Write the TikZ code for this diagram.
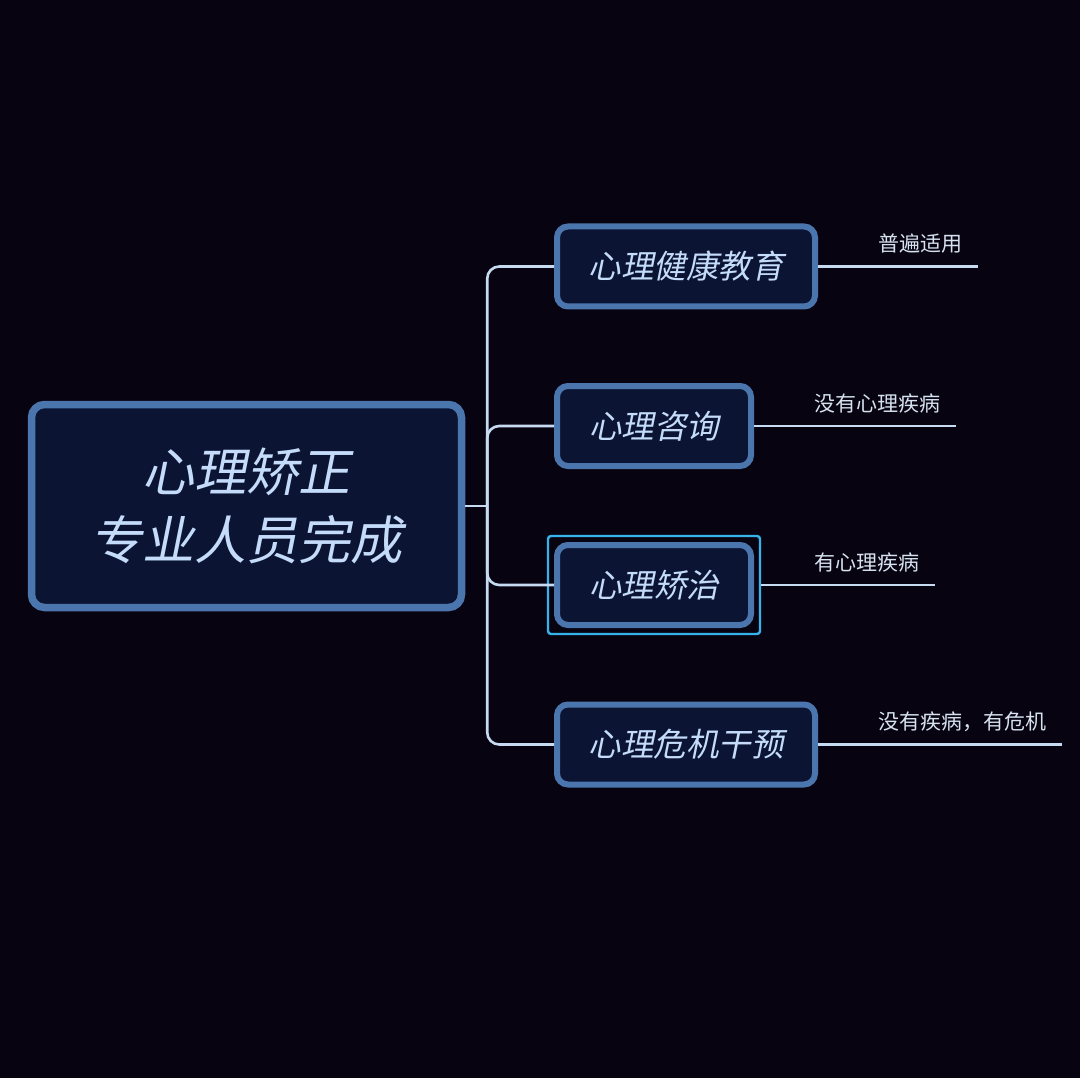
\documentclass[tikz,border=0pt]{standalone}
\usepackage{fontspec}
\usepackage{xcolor}
\usetikzlibrary{fit}
\newfontfamily\cjk{Noto Sans CJK SC}
\newfontfamily\cjkit[FakeSlant=0.2]{Noto Sans CJK SC}
\definecolor{bgdark}{HTML}{080311}
\definecolor{boxfill}{HTML}{0C1434}
\definecolor{boxline}{HTML}{4A76AD}
\definecolor{boxtext}{HTML}{C4DCFA}
\definecolor{wire}{HTML}{C6DAF2}
\definecolor{selcyan}{HTML}{35B3EA}
\definecolor{tagtext}{HTML}{D6E2F0}

\begin{document}
\begin{tikzpicture}[x=1pt,y=-1pt,
  topic/.style={draw=boxline,fill=boxfill,line width=7.5pt,rounded corners=13pt,
    text=boxtext,align=center,inner sep=0pt},
  subtopic/.style={topic,line width=6pt,rounded corners=11pt,minimum height=80pt,
    font=\cjkit\fontsize{32.5}{36}\selectfont},
  branch/.style={draw=wire,line width=2.6pt},
  tag/.style={text=tagtext,font=\cjk\fontsize{21}{24}\selectfont,inner xsep=16pt,inner ysep=2pt,anchor=south west},
  selbox/.style={draw=selcyan,line width=2.4pt,rounded corners=3pt,inner sep=6pt}]
 \fill[bgdark] (0,0) rectangle (1080,1078);
 % ---- central topic
 \node[topic,minimum width=430pt,minimum height=203pt,font=\cjkit\fontsize{52}{68}\selectfont]
   (root) at (246.5,506) {心理矫正\\专业人员完成};
 % ---- main branches
 \node[subtopic,minimum width=258pt] (edu) at (686,266.5) {心理健康教育};
 \node[subtopic,minimum width=194pt] (consult) at (654,426) {心理咨询};
 \node[subtopic,minimum width=194pt] (treat) at (654,585) {心理矫治};
 \node[subtopic,minimum width=258pt] (crisis) at (686,744.5) {心理危机干预};
 \node[selbox,fit=(treat)] (treatsel) {};
 \coordinate (hub) at ([xshift=22pt]root.east);
 \draw[branch] (root.east) -- (hub);
 \foreach \c in {edu,consult,treat,crisis}
  \draw[branch,rounded corners=12pt] (hub) |- (\c.west);
 % ---- notes
 \node[tag] (tEdu) at ([xshift=44pt,yshift=11pt]edu.east) {普遍适用};
 \node[tag] (tConsult) at ([xshift=44pt,yshift=11pt]consult.east) {没有心理疾病};
 \node[tag] (tTreat) at ([xshift=44pt,yshift=11pt]treat.east) {有心理疾病};
 \node[tag] (tCrisis) at ([xshift=44pt,yshift=11pt]crisis.east) {没有疾病，有危机};
 \draw[branch] (edu.east) -- (edu.east -| tEdu.south east);
 \draw[branch] (consult.east) -- (consult.east -| tConsult.south east);
 \draw[branch] (treatsel.east |- treat.east) -- (treat.east -| tTreat.south east);
 \draw[branch] (crisis.east) -- (crisis.east -| tCrisis.south east);
\end{tikzpicture}
\end{document}
